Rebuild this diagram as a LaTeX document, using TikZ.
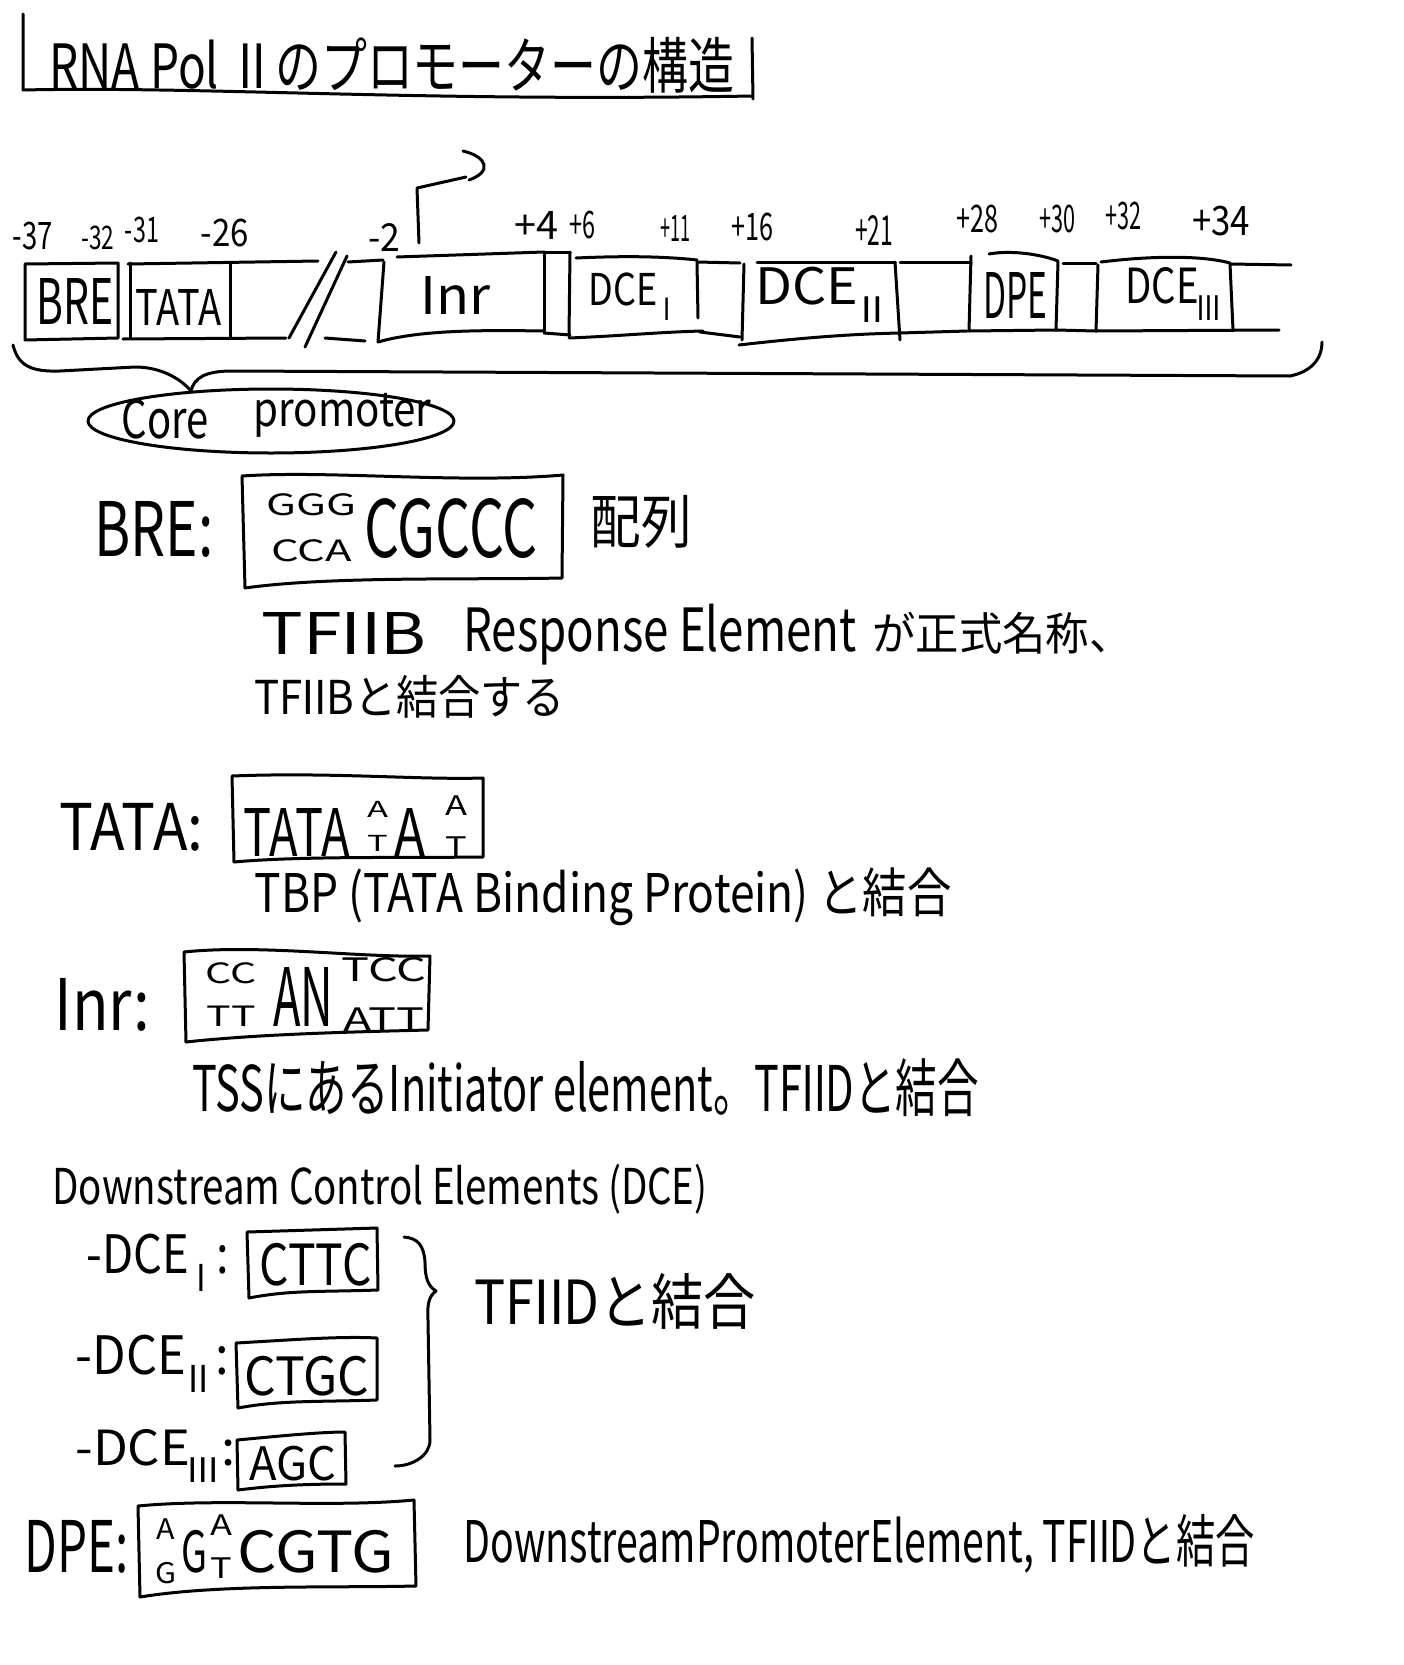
\documentclass[tikz,border=0pt]{standalone}
\usepackage{fontspec}
\usepackage{graphicx}
\setmainfont{Noto Sans CJK JP}
\usetikzlibrary{shapes.geometric}
\newcommand{\fitt}[3]{\resizebox*{#1pt}{#2pt}{#3}}
\newcommand{\sbr}[1]{\raisebox{-0.35em}{\scalebox{0.7}{\kern-0.12em#1}}}
\newcommand{\rtwo}{\kern-0.22em Ⅱ\kern-0.22em}
\newcommand{\stk}[2]{\shortstack{#1\\[5pt]#2}}
\begin{document}
\begin{tikzpicture}[x=1pt,y=-1pt,line width=3pt,line cap=round,line join=round,
  txt/.style={anchor=north west,inner sep=0pt},
  lbl/.style={inner sep=0pt}]
\fill[white] (0,0) rectangle (1404,1665);
\useasboundingbox (0,0) rectangle (1404,1665);

% ---------- title ----------
\node[txt] (title) at (48,36) {\fitt{685}{56}{RNA Pol Ⅱのプロモーターの構造}};
\draw (23,14) -- (23,90) .. controls (200,86) and (420,102) .. (752,96);
\draw (752,38) -- (753,99);

% ---------- position labels ----------
\node[lbl] (pA) at (33,236) {\fitt{40}{28}{-37}};
\node[lbl] (pB) at (98,238) {\fitt{33}{24}{-32}};
\node[lbl] (pC) at (142,230) {\fitt{34}{26}{-31}};
\node[lbl] (pD) at (225,233) {\fitt{48}{28}{-26}};
\node[lbl] (pE) at (384,237) {\fitt{32}{28}{-2}};
\node[lbl] (pF) at (536,225) {\fitt{44}{28}{+4}};
\node[lbl] (pG) at (582,225) {\fitt{26}{28}{+6}};
\node[lbl] (pH) at (675,228) {\fitt{30}{26}{+11}};
\node[lbl] (pI) at (752,227) {\fitt{42}{28}{+16}};
\node[lbl] (pJ) at (874,230) {\fitt{38}{30}{+21}};
\node[lbl] (pK) at (977,219) {\fitt{42}{28}{+28}};
\node[lbl] (pL) at (1057,219) {\fitt{36}{28}{+30}};
\node[lbl] (pM) at (1123,216) {\fitt{36}{28}{+32}};
\node[lbl] (pN) at (1221,221) {\fitt{58}{30}{+34}};

% ---------- TSS arrow ----------
\draw (419,243) -- (417,188) -- (466,177);
\draw (463,151) .. controls (488,157) and (492,172) .. (469,180);

% ---------- timeline strip ----------
% BRE box
\draw (25,264) -- (118,263) -- (118,338) -- (25,340) -- cycle;
% TATA box and continuation
\draw (130,263) -- (130,338);
\draw (230,263) -- (230,337);
\draw (128,264) -- (318,261);
\draw (123,339) -- (286,338);
% break slashes
\draw (336,252) -- (289,338);
\draw (347,256) -- (305,347);
\draw (348,262) -- (383,260);
\draw (325,338) -- (365,341);
% Inr
\draw (384,262) -- (378,342);
\draw (397,257) -- (544,252);
\draw (378,342) .. controls (420,330) and (480,330) .. (544,331);
\draw (544,252) -- (544,331);
% small box +4..+6
\draw (544,252) -- (570,252);
\draw (570,252) -- (569,336);
\draw (544,333) -- (570,335);
% DCE I
\draw (576,258) .. controls (620,256) and (660,256) .. (697,260);
\draw (697,262) -- (698,318);
\draw (569,338) .. controls (620,336) and (660,332) .. (703,331);
% gap
\draw (697,262) -- (740,263);
\draw (700,332) -- (740,337);
% DCE II
\draw (744,264) -- (742,340);
\draw (757,262) -- (895,262);
\draw (895,262) -- (900,340);
\draw (739,345) .. controls (800,338) and (850,334) .. (900,333);
% gap
\draw (900,262) -- (971,262);
\draw (900,333) -- (967,331);
% DPE
\draw (971,256) -- (969,331);
\draw (989,254) .. controls (1010,250) and (1040,254) .. (1058,261);
\draw (1058,262) -- (1056,330);
\draw (969,331) -- (1056,330);
% small box
\draw (1063,263) -- (1096,263);
\draw (1098,265) -- (1096,331);
\draw (1056,330) -- (1096,331);
% DCE III and tail
\draw (1101,262) .. controls (1150,256) and (1200,255) .. (1230,263);
\draw (1230,264) -- (1233,330);
\draw (1096,331) -- (1279,330);
\draw (1230,264) -- (1291,265);

% box labels
\node[txt] (lBRE) at (35,277) {\fitt{77}{46}{BRE}};
\node[txt] (lTATA) at (134,288) {\fitt{86}{36}{TATA}};
\node[txt] (lInr) at (419,275) {\fitt{70}{38}{Inr}};
\node[txt] (lDCEa) at (587,271) {\fitt{91}{48}{DCE\sbr{Ⅰ}}};
\node[txt] (lDCEb) at (754,266) {\fitt{136}{55}{DCE\sbr{Ⅱ}}};
\node[txt] (lDPE) at (982,271) {\fitt{64}{46}{DPE}};
\node[txt] (lDCEc) at (1124,266) {\fitt{97}{53}{DCE\sbr{Ⅲ}}};

% ---------- core promoter brace ----------
\draw (13,345) .. controls (18,365) and (30,372) .. (60,371) -- (135,367)
  .. controls (160,367) and (180,378) .. (191,391)
  .. controls (194,378) and (205,371) .. (232,371) -- (1290,376)
  .. controls (1310,372) and (1322,360) .. (1322,342);
\node[draw,ellipse,line width=3pt,minimum width=366pt,minimum height=64pt] (core) at (271,421) {};
\node[txt] (tCore) at (120,398) {\fitt{87}{40}{Core}};
\node[txt] (tProm) at (252,392) {\fitt{178}{44}{promoter}};

% ---------- BRE ----------
\node[txt] (hBRE) at (93,500) {\fitt{119}{56}{BRE:}};
\draw (242,476) .. controls (330,470) and (460,484) .. (563,475) -- (562,578)
  .. controls (470,580) and (330,576) .. (245,588) -- cycle;
\node[txt] (sGGGCCA) at (265,492) {\fitt{90}{68}{\stk{GGG}{CCA}}};
\node[txt] (sCGCCC) at (363,497) {\fitt{173}{60}{CGCCC}};
\node[txt] (tHairetsu) at (589,494) {\fitt{101}{53}{配列}};
\node[txt] (tTFIIB) at (260,611) {\fitt{165}{42}{TF\rtwo B}};
\node[txt] (tResp) at (462,603) {\fitt{393}{61}{Response Element}};
\node[txt] (tSeishiki) at (871,611) {\fitt{260}{42}{が正式名称、}};
\node[txt] (tBind1) at (253,674) {\fitt{310}{43}{TF\rtwo Bと結合する}};

% ---------- TATA ----------
\node[txt] (hTATA) at (58,802) {\fitt{144}{48}{TATA:}};
\draw (232,776) .. controls (330,772) and (420,780) .. (483,778) -- (483,857)
  .. controls (400,858) and (300,856) .. (234,862) -- cycle;
\node[txt] (sTATA) at (242,807) {\fitt{106}{48}{TATA}};
\node[txt] (sAT1) at (366,800) {\fitt{21}{50}{\stk{A}{T}}};
\node[txt] (sA2) at (393,807) {\fitt{31}{48}{A}};
\node[txt] (sAT3) at (444,794) {\fitt{22}{61}{\stk{A}{T}}};
\node[txt] (tTBP) at (253,866) {\fitt{697}{58}{TBP (TATA Binding Protein) と結合}};

% ---------- Inr ----------
\node[txt] (hInr) at (53,977) {\fitt{96}{53}{Inr:}};
\draw (184,952) .. controls (260,944) and (360,958) .. (430,956) -- (428,1030)
  .. controls (350,1032) and (260,1034) .. (186,1042) -- cycle;
\node[txt] (sCCTT) at (204,961) {\fitt{51}{64}{\stk{CC}{TT}}};
\node[txt] (sAN) at (272,966) {\fitt{60}{59}{AN}};
\node[txt] (sTCCATT) at (340,956) {\fitt{85}{74}{\stk{TCC}{ATT}}};
\node[txt] (tTSS) at (191,1057) {\fitt{786}{58}{TSSにあるInitiator element。TF\rtwo Dと結合}};

% ---------- DCE ----------
\node[txt] (hDCE) at (51,1163) {\fitt{655}{50}{Downstream Control Elements (DCE)}};
\node[txt] (hDCEa) at (85,1232) {\fitt{143}{58}{-DCE\sbr{Ⅰ}:}};
\draw (247,1232) -- (377,1228) -- (378,1290) .. controls (320,1292) and (290,1290) .. (249,1298) -- cycle;
\node[txt] (sCTTC) at (258,1242) {\fitt{112}{43}{CTTC}};
\node[txt] (hDCEb) at (74,1333) {\fitt{154}{58}{-DCE\sbr{Ⅱ}:}};
\draw (236,1343) .. controls (290,1340) and (340,1336) .. (377,1338) -- (377,1400)
  .. controls (320,1402) and (280,1400) .. (238,1408) -- cycle;
\node[txt] (sCTGC) at (243,1355) {\fitt{125}{40}{CTGC}};
\node[txt] (hDCEc) at (74,1428) {\fitt{160}{53}{-DCE\sbr{Ⅲ}:}};
\draw (237,1440) .. controls (280,1436) and (320,1432) .. (345,1432) -- (346,1484)
  .. controls (300,1484) and (270,1486) .. (238,1490) -- cycle;
\node[txt] (sAGC) at (248,1445) {\fitt{87}{35}{AGC}};
\draw (404,1237) .. controls (418,1238) and (424,1246) .. (425,1262)
  .. controls (425,1278) and (428,1286) .. (436,1291)
  .. controls (429,1296) and (427,1304) .. (428,1320)
  -- (430,1440) .. controls (430,1456) and (412,1466) .. (395,1466);
\node[txt] (tTFIID1) at (473,1272) {\fitt{281}{56}{TF\rtwo Dと結合}};

% ---------- DPE ----------
\node[txt] (hDPE) at (23,1519) {\fitt{104}{53}{DPE:}};
\draw (138,1506) .. controls (220,1498) and (330,1508) .. (414,1500) -- (416,1586)
  .. controls (330,1588) and (220,1584) .. (140,1597) -- cycle;
\node[txt] (sAG4) at (154,1517) {\fitt{21}{65}{\stk{A}{G}}};
\node[txt] (sG5) at (180,1529) {\fitt{26}{43}{G}};
\node[txt] (sAT5) at (209,1513) {\fitt{22}{64}{\stk{A}{T}}};
\node[txt] (sCGTG) at (236,1529) {\fitt{157}{43}{CGTG}};
\node[txt] (tDPE) at (462,1513) {\fitt{791}{59}{DownstreamPromoterElement, TF\rtwo Dと結合}};
\end{tikzpicture}
\end{document}
